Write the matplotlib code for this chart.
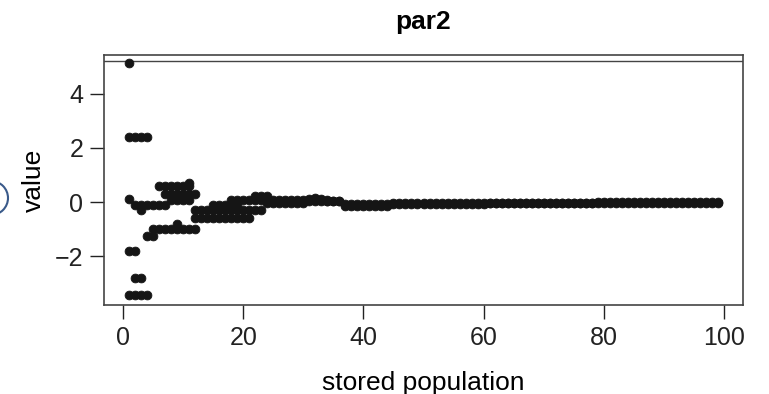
import numpy as np
import matplotlib
matplotlib.use('Agg')
import matplotlib.pyplot as plt
from matplotlib.patches import Circle

plt.rcParams['font.family'] = ['Liberation Sans', 'DejaVu Sans']

# runs of stored population members: (first index, last index, value)
run_start = [1, 1, 1, 2, 3, 1, 2, 1, 4, 5, 9, 6, 11, 7, 8, 12, 12, 15, 18, 22, 32]
run_end   = [1, 4, 1, 7, 3, 2, 3, 4, 5, 12, 9, 11, 11, 12, 11, 21, 23, 19, 34, 24, 32]
run_value = [5.15, 2.4, 0.12, -0.1, -0.3, -1.8, -2.8, -3.45, -1.25, -1.0, -0.8,
             0.6, 0.72, 0.3, 0.08, -0.6, -0.3, -0.1, 0.07, 0.22, 0.15]

# converged part of the population (two members)
tail_a_start = [24, 31, 34, 37, 45, 61, 79]
tail_a_end   = [30, 33, 36, 44, 60, 78, 99]
tail_a_value = [0.05, 0.1, 0.05, -0.08, -0.05, -0.02, 0.0]
tail_b_start = [24, 31, 37, 45, 61, 79]
tail_b_end   = [30, 36, 44, 60, 78, 99]
tail_b_value = [-0.03, 0.02, -0.14, -0.09, -0.05, -0.02]

ref_line = 5.22

xs, ys = [], []
for s, e, v in zip(run_start + tail_a_start + tail_b_start,
                   run_end + tail_a_end + tail_b_end,
                   run_value + tail_a_value + tail_b_value):
    idx = np.arange(s, e + 1)
    xs.extend(idx)
    ys.extend([v] * len(idx))

fig = plt.figure(figsize=(7.69, 3.94), dpi=100)
ax = fig.add_axes([104 / 769, 1 - 305 / 394, (743 - 104) / 769, (305 - 55) / 394])

ax.scatter(xs, ys, s=40, color='#151515', edgecolors='#151515', linewidths=0.6, zorder=3)
ax.axhline(ref_line, color='#444444', lw=1.0)

ax.set_xlim(-3.2, 103.2)
ax.set_ylim(-3.81, 5.44)
ax.set_xticks([0, 20, 40, 60, 80, 100])
ax.set_yticks([-2, 0, 2, 4])
ax.set_yticklabels(['\u22122', '0', '2', '4'])
ax.tick_params(direction='out', length=10, width=1, labelsize=18, pad=5, colors='#222222')
for sp in ax.spines.values():
    sp.set_color('#444444')
    sp.set_linewidth(1.2)

ax.set_title('par2', fontsize=19, fontweight='bold', pad=19)
ax.set_xlabel('stored population', fontsize=19, labelpad=15)
ax.set_ylabel('value', fontsize=19, labelpad=6)

# cropped circle marker at the left edge of the page
fig.patches.append(Circle((-9, 196), 17, transform=None, fill=False,
                          edgecolor='#3a5a8a', lw=1.5))

fig.savefig('out.png', dpi=100)
